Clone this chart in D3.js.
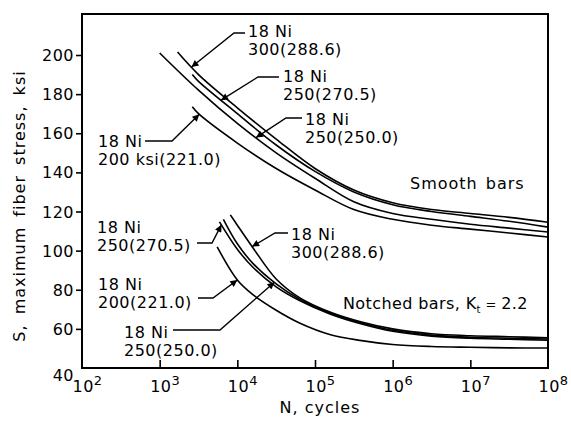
<!DOCTYPE html>
<html>
<head>
<meta charset="utf-8">
<script src="https://cdn.jsdelivr.net/npm/d3@7"></script>
<style>
  html, body { margin: 0; padding: 0; background: #fff; }
  svg text { font-family: "DejaVu Sans", sans-serif; fill: #000; }
</style>
</head>
<body>
<svg id="chart" width="571" height="421"></svg>
<script>
// ---------- data ----------
const yTicks = [40, 60, 80, 100, 120, 140, 160, 180, 200];
const xTickExponents = [2, 3, 4, 5, 6, 7, 8];

// Smooth bars
const smooth300N = [1700, 3162, 1e4, 31620, 1e5, 316200, 1e6, 3.162e6, 1e7, 3.162e7, 1e8];
const smooth300S = [201.5, 190, 173, 157, 142, 131, 124.5, 121, 119, 117, 114.5];
const smooth270N = [2630, 3162, 1e4, 31620, 1e5, 316200, 1e6, 3.162e6, 1e7, 3.162e7, 1e8];
const smooth270S = [190, 186.5, 170, 154, 140.5, 130, 123.5, 120, 117.5, 115, 112];
const smooth250N = [1000, 3162, 1e4, 31620, 1e5, 316200, 1e6, 3.162e6, 1e7, 3.162e7, 1e8];
const smooth250S = [201, 182, 165, 150, 137, 125, 119, 116, 113.5, 111.5, 109.5];
const smooth221N = [2630, 3162, 1e4, 31620, 1e5, 316200, 1e6, 3.162e6, 1e7, 3.162e7, 1e8];
const smooth221S = [173.5, 170, 155, 142, 131, 121, 116, 113, 111, 109, 107];

// Notched bars, Kt = 2.2
const notch300N = [8130, 1e4, 15850, 31620, 63100, 158500, 398100, 1e6, 3.162e6, 1e7, 3.162e7, 1e8];
const notch300S = [118.3, 113, 101.5, 85.5, 76, 68.5, 63.5, 60, 57.5, 56.5, 56, 55.5];
const notch270N = [5890, 1e4, 15850, 31620, 63100, 158500, 398100, 1e6, 3.162e6, 1e7, 3.162e7, 1e8];
const notch270S = [114.7, 100.7, 91.5, 81.5, 74.5, 67.5, 62.5, 58.8, 56.3, 55.2, 54.7, 54.2];
const notch250N = [6610, 1e4, 15850, 31620, 63100, 158500, 398100, 1e6, 3.162e6, 1e7, 3.162e7, 1e8];
const notch250S = [116, 103.5, 93.5, 83, 75.2, 68, 63, 59.3, 56.8, 55.7, 55.2, 54.8];
const notch221N = [5500, 1e4, 15850, 31620, 63100, 158500, 398100, 1e6, 3.162e6, 1e7, 3.162e7, 1e8];
const notch221S = [101.9, 85, 77.5, 69.5, 63, 57, 54, 52, 51, 50.6, 50.3, 50.2];

const curveNames = ["smooth300", "smooth270", "smooth250", "smooth221",
                    "notch300", "notch270", "notch250", "notch221"];
const curveN = [smooth300N, smooth270N, smooth250N, smooth221N, notch300N, notch270N, notch250N, notch221N];
const curveS = [smooth300S, smooth270S, smooth250S, smooth221S, notch300S, notch270S, notch250S, notch221S];

// Label texts and the cycle count where each arrow touches its curve
const labelLine1 = ["18 Ni", "18 Ni", "18 Ni", "18 Ni", "18 Ni", "18 Ni", "18 Ni", "18 Ni"];
const labelLine2 = ["300(288.6)", "250(270.5)", "250(250.0)", "200 ksi(221.0)",
                    "300(288.6)", "250(270.5)", "250(250.0)", "200(221.0)"];
const arrowN = [2570, 6170, 17400, 3240, 15500, 6240, 30000, 10000];

// ---------- layout ----------
const svg = d3.select("#chart");
const L = 82, R = 548, T = 14, B = 368;

const x = d3.scaleLog().domain([1e2, 1e8]).range([L, R]);
const y = d3.scaleLinear().domain([40, 200]).range([B, 55]);

const series = curveNames.map((name, i) => ({
  name,
  pts: curveN[i].map((n, j) => ({ n, s: curveS[i][j] }))
}));

// curves
const line = d3.line().x(d => x(d.n)).y(d => y(d.s)).curve(d3.curveCatmullRom.alpha(0.5));
svg.append("g").selectAll("path").data(series).join("path")
  .attr("d", d => line(d.pts))
  .attr("fill", "none").attr("stroke", "#000").attr("stroke-width", 1.6);

// frame
svg.append("rect").attr("x", L).attr("y", T).attr("width", R - L).attr("height", B - T)
  .attr("fill", "none").attr("stroke", "#000").attr("stroke-width", 2);

// y axis
const yAxis = d3.axisLeft(y).tickValues(yTicks).tickSize(6).tickPadding(2).tickFormat(d3.format("d"));
const gy = svg.append("g").attr("transform", `translate(${L},0)`).call(yAxis);
gy.select(".domain").remove();
gy.selectAll("line").attr("stroke", "#000").attr("stroke-width", 1.6);
gy.selectAll("text").attr("font-size", 16).attr("font-family", "DejaVu Sans")
  .attr("letter-spacing", 0.5).attr("fill", "#000")
  .attr("dy", d => d === 40 ? "0.75em" : "0.35em");
gy.selectAll(".tick").filter(d => d === 40).select("line").remove();

// x axis (inward ticks, superscript labels)
const xAxis = d3.axisBottom(x).tickValues(xTickExponents.map(e => Math.pow(10, e)))
  .tickSize(-8).tickFormat("");
const gx = svg.append("g").attr("transform", `translate(0,${B})`).call(xAxis);
gx.select(".domain").remove();
gx.selectAll("line").attr("stroke", "#000").attr("stroke-width", 1.6);
gx.selectAll(".tick").filter(d => d <= 1e2 || d >= 1e8).select("line").remove();
gx.selectAll(".tick").each(function(d) {
  const e = Math.round(Math.log10(d));
  const t = d3.select(this).append("text").attr("y", 24).attr("x", -10)
    .attr("font-size", 16).attr("letter-spacing", 0.5).attr("text-anchor", "start");
  t.append("tspan").text("10");
  t.append("tspan").attr("dy", -7).attr("font-size", 13).text(e);
});

// axis titles
svg.append("text").attr("x", 320).attr("y", 413).attr("text-anchor", "middle")
  .attr("font-size", 16).attr("letter-spacing", 1).text("N, cycles");
svg.append("text").attr("transform", "translate(25,206) rotate(-90)")
  .attr("text-anchor", "middle").attr("font-size", 16).attr("letter-spacing", 1)
  .attr("word-spacing", 4).text("S, maximum fiber stress, ksi");

// group labels
svg.append("text").attr("x", 410).attr("y", 189).attr("font-size", 16)
  .attr("letter-spacing", 1).attr("word-spacing", 2).text("Smooth bars");
const nb = svg.append("text").attr("x", 343).attr("y", 309).attr("font-size", 16)
  .attr("letter-spacing", 0.4);
nb.append("tspan").text("Notched bars, K");
nb.append("tspan").attr("dy", 4).attr("font-size", 10).text("t");
nb.append("tspan").attr("dy", -4).attr("font-size", 13).text(" = ");
nb.append("tspan").text("2.2");

// arrow marker
svg.append("defs").append("marker").attr("id", "ah")
  .attr("viewBox", "0 0 10 10").attr("refX", 10).attr("refY", 5)
  .attr("markerWidth", 11).attr("markerHeight", 7).attr("markerUnits", "userSpaceOnUse")
  .attr("orient", "auto")
  .append("path").attr("d", "M0,0 L10,5 L0,10 Z").attr("fill", "#000");

// label placement: text position (x, baseline of first line), elbow and start of leader
const labelPos = [
  { tx: 248, ty: 37, lead: [[245, 33], [234, 33]] },
  { tx: 283, ty: 82, lead: [[279, 77], [258, 77]] },
  { tx: 305, ty: 125, lead: [[302, 118], [286, 118]] },
  { tx: 98, ty: 147, lead: [[145, 141], [172, 141]] },
  { tx: 291, ty: 240, lead: [[288, 233], [275, 233]] },
  { tx: 97, ty: 233, lead: [[197, 243], [212, 243]] },
  { tx: 124, ty: 338, lead: [[173, 330], [220, 330]] },
  { tx: 98, ty: 290, lead: [[198, 298], [213, 298]] }
];

function sAt(i, n) {
  const ln = curveN[i].map(v => Math.log10(v));
  const sc = d3.scaleLinear().domain(ln).range(curveS[i]);
  return sc(Math.log10(n));
}

const gl = svg.append("g");
labelPos.forEach((p, i) => {
  const t = gl.append("text").attr("x", p.tx).attr("y", p.ty).attr("font-size", 16)
    .attr("letter-spacing", 0.5);
  t.append("tspan").attr("x", p.tx).text(labelLine1[i]);
  t.append("tspan").attr("x", p.tx).attr("dy", 18).text(labelLine2[i]);
  const tip = [x(arrowN[i]), y(sAt(i, arrowN[i]))];
  const pts = p.lead.concat([tip]);
  gl.append("path").attr("d", d3.line()(pts)).attr("fill", "none")
    .attr("stroke", "#000").attr("stroke-width", 1.4).attr("marker-end", "url(#ah)");
});
</script>
</body>
</html>
